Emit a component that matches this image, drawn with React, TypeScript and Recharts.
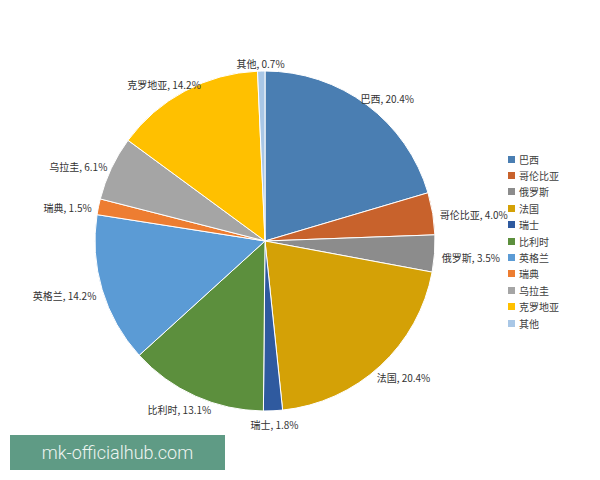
import { PieChart, Pie, Cell, Legend } from "recharts";

const COUNTRIES = ["巴西", "哥伦比亚", "俄罗斯", "法国", "瑞士", "比利时", "英格兰", "瑞典", "乌拉圭", "克罗地亚", "其他"];
const SHARES = [20.4, 4.0, 3.5, 20.4, 1.8, 13.1, 14.2, 1.5, 6.1, 14.2, 0.7];
const COLORS = [
  "#4a7eb2", "#c8622c", "#8c8c8c", "#d4a106", "#2f5a9f", "#5c8f3d",
  "#5b9bd5", "#ed7d31", "#a5a5a5", "#ffc000", "#a9c7e6",
];

const data = COUNTRIES.map((name, i) => ({ name, value: SHARES[i] }));

const RAD = Math.PI / 180;
const FONT = "'Noto Sans CJK SC', 'Noto Sans', sans-serif";

// rough width of a label: CJK glyphs are ~1em, the rest about half
function textWidth(s: string, size: number) {
  let w = 0;
  for (const ch of s) w += /[\u3000-\u9fff]/.test(ch) ? size : size * 0.55;
  return w;
}

function renderLabel(props: any) {
  const { cx, cy, midAngle, outerRadius, name, value } = props;
  const text = `${name}, ${Number(value).toFixed(1)}%`;
  const dx = Math.cos(-midAngle * RAD);
  const dy = Math.sin(-midAngle * RAD);
  const r = outerRadius + 5;
  const w = textWidth(text, 10);
  const h = 12;
  const x = cx + r * dx + (w / 2) * dx;
  const y = cy + r * dy + (h / 2) * dy + 3;
  return (
    <text
      x={x}
      y={y}
      textAnchor="middle"
      dominantBaseline="central"
      fontSize={10}
      fontFamily={FONT}
      fill="#333"
    >
      {text}
    </text>
  );
}

// keep the legend in data order (recharts sorts the payload)
function LegendList() {
  return (
    <div style={{ fontFamily: FONT, fontSize: 10, color: "#404040" }}>
      {COUNTRIES.map((name, i) => (
        <div key={name} style={{ display: "flex", alignItems: "center", height: 16.4 }}>
          <span style={{ width: 7, height: 7, background: COLORS[i], marginRight: 4, display: "inline-block" }} />
          <span>{name}</span>
        </div>
      ))}
    </div>
  );
}

export default function App() {
  return (
    <div style={{ position: "absolute", left: 0, top: 0, width: 600, height: 480, background: "#fff" }}>
      <PieChart width={600} height={480} margin={{ top: 0, right: 0, bottom: 0, left: 0 }}>
        <Pie
          data={data}
          dataKey="value"
          nameKey="name"
          cx={265}
          cy={241}
          outerRadius={170}
          startAngle={90}
          endAngle={-270}
          stroke="#fff"
          strokeWidth={1}
          label={renderLabel}
          labelLine={false}
          isAnimationActive={false}
        >
          {data.map((_, i) => (
            <Cell key={i} fill={COLORS[i]} />
          ))}
        </Pie>
        <Legend
          layout="vertical"
          content={<LegendList />}
          wrapperStyle={{ left: 508, top: 151, width: 90 }}
        />
      </PieChart>
      <div
        style={{
          position: "absolute",
          left: 10,
          top: 435,
          width: 215,
          height: 35,
          background: "#5f9b85",
          color: "#eef5f1",
          fontFamily: "Roboto, 'DejaVu Sans', sans-serif",
          fontWeight: 300,
          fontSize: 18,
          lineHeight: "35px",
          textAlign: "center",
        }}
      >
        mk-officialhub.com
      </div>
    </div>
  );
}
